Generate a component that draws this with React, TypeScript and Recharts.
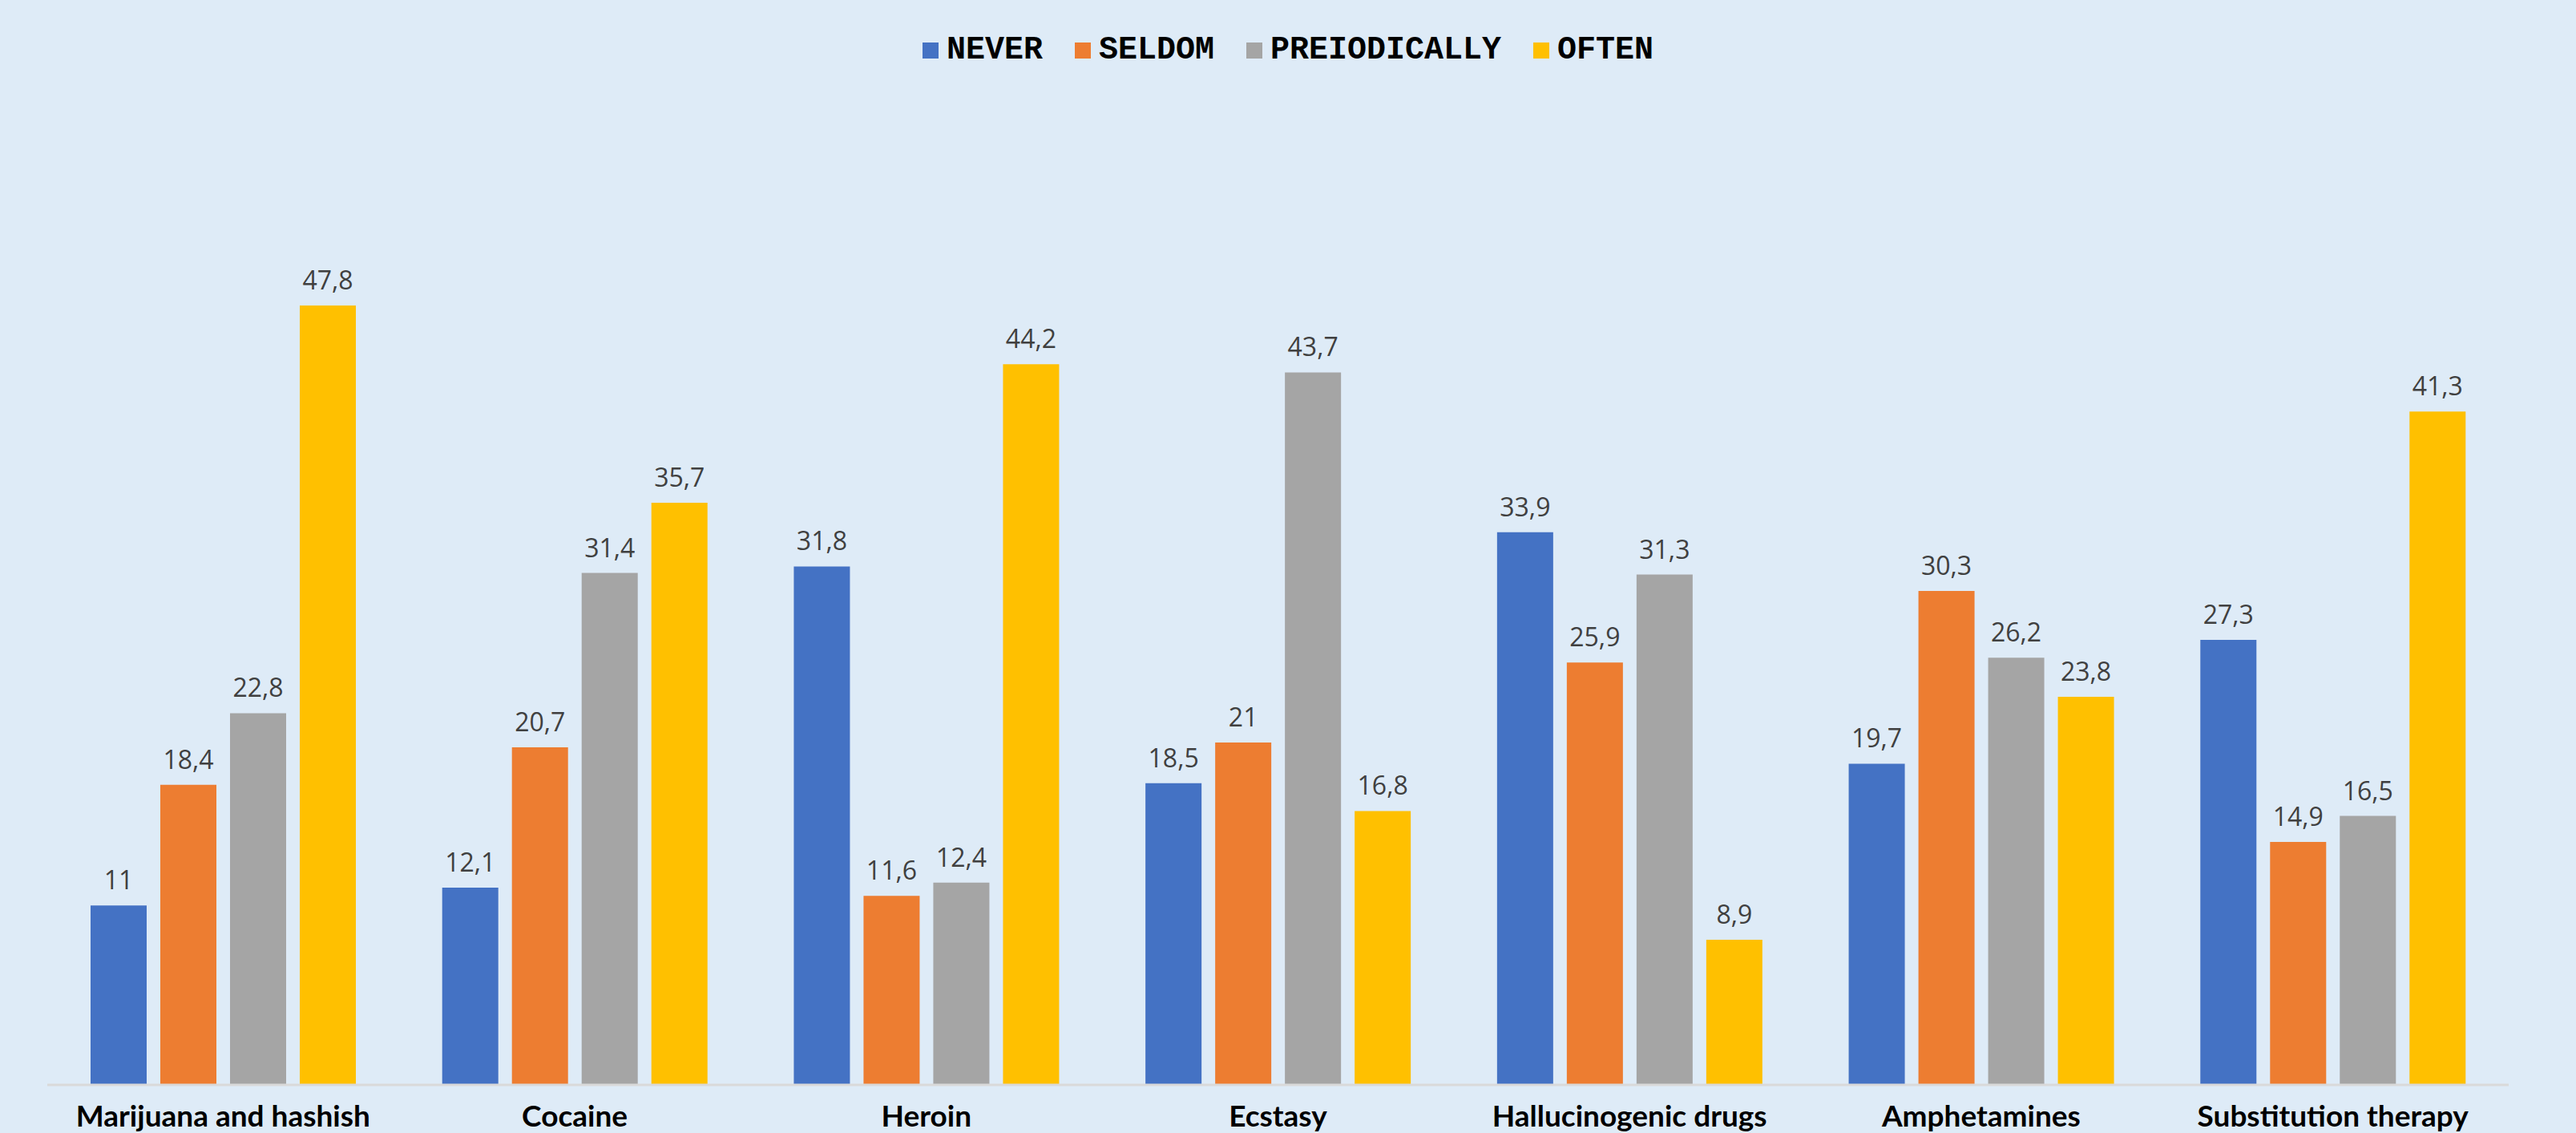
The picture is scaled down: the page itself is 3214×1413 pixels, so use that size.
import { Bar, BarChart, LabelList, Legend, XAxis, YAxis } from "recharts";

const categories = [
  "Marijuana and hashish",
  "Cocaine",
  "Heroin",
  "Ecstasy",
  "Hallucinogenic drugs",
  "Amphetamines",
  "Substitution therapy",
];

const never = [11, 12.1, 31.8, 18.5, 33.9, 19.7, 27.3];
const seldom = [18.4, 20.7, 11.6, 21, 25.9, 30.3, 14.9];
const periodically = [22.8, 31.4, 12.4, 43.7, 31.3, 26.2, 16.5];
const often = [47.8, 35.7, 44.2, 16.8, 8.9, 23.8, 41.3];

const series = [
  { key: "never", name: "NEVER", color: "#4472c4" },
  { key: "seldom", name: "SELDOM", color: "#ed7d31" },
  { key: "periodically", name: "PREIODICALLY", color: "#a5a5a5" },
  { key: "often", name: "OFTEN", color: "#ffc000" },
];

const data = categories.map((name, i) => ({
  name,
  never: never[i],
  seldom: seldom[i],
  periodically: periodically[i],
  often: often[i],
}));

const comma = (v: number) => String(v).replace(".", ",");

function CategoryTick({ x, y, payload }: any) {
  return (
    <text
      x={x}
      y={y + 50}
      textAnchor="middle"
      fontFamily="Lato, 'Liberation Sans', sans-serif"
      fontWeight={700}
      fontSize={37}
      fill="#000000"
    >
      {payload.value}
    </text>
  );
}

function LegendBox() {
  return (
    <div
      style={{
        display: "flex",
        justifyContent: "center",
        alignItems: "center",
        height: 40,
        gap: 40,
      }}
    >
      {series.map((s) => (
        <div key={s.key} style={{ display: "flex", alignItems: "center" }}>
          <span
            style={{
              display: "inline-block",
              width: 20,
              height: 20,
              background: s.color,
              marginRight: 10,
            }}
          />
          <span
            style={{
              fontFamily: "'Liberation Mono', monospace",
              fontWeight: 700,
              fontSize: 40,
              color: "#000000",
              lineHeight: "40px",
            }}
          >
            {s.name}
          </span>
        </div>
      ))}
    </div>
  );
}

export default function App() {
  return (
    <div
      style={{
        position: "absolute",
        left: 0,
        top: 0,
        width: 3214,
        height: 1413,
        background: "#deebf7",
        overflow: "hidden",
      }}
    >
      <BarChart
        width={3214}
        height={1413}
        data={data}
        margin={{ top: 93, right: 84, bottom: 0, left: 59 }}
        barCategoryGap={54}
        barGap={17}
      >
        <Legend
          verticalAlign="top"
          align="center"
          content={() => <LegendBox />}
          wrapperStyle={{ top: 43, left: 0, width: 3214 }}
        />
        <XAxis
          dataKey="name"
          height={60}
          tickLine={false}
          tickSize={0}
          axisLine={{ stroke: "#d9d9d9", strokeWidth: 3 }}
          tick={<CategoryTick />}
          interval={0}
        />
        <YAxis hide domain={[0, 60]} />
        {series.map((s) => (
          <Bar
            key={s.key}
            dataKey={s.key}
            name={s.name}
            fill={s.color}
            isAnimationActive={false}
          >
            <LabelList
              dataKey={s.key}
              position="top"
              offset={20}
              formatter={(v: any) => comma(v)}
              fill="#404040"
              fontSize={32}
              fontFamily="'Open Sans', sans-serif"
            />
          </Bar>
        ))}
      </BarChart>
    </div>
  );
}
